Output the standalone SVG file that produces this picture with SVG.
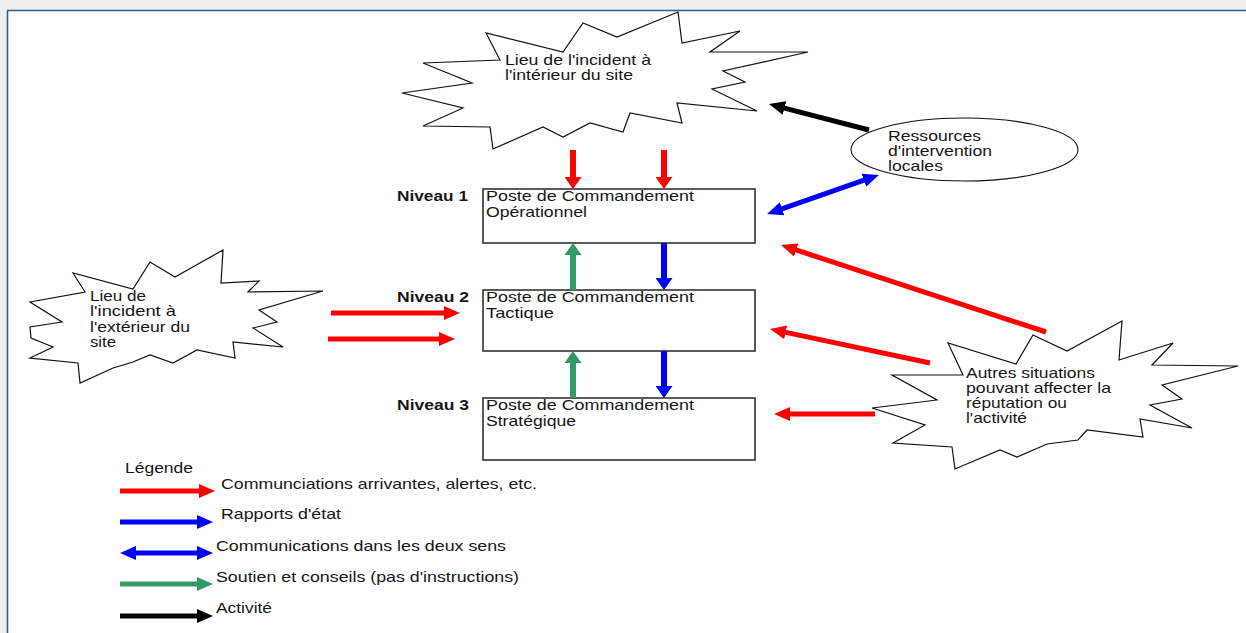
<svg xmlns="http://www.w3.org/2000/svg" width="1246" height="633" viewBox="0 0 1246 633">
<style>
text{font-family:"Liberation Sans",Arial,sans-serif;font-size:15px;fill:#161616}
.b{font-weight:bold}
.burst{fill:#fff;stroke:#111;stroke-width:1.2;stroke-linejoin:miter}
.box{fill:#fff;stroke:#333;stroke-width:1.6}
.r{stroke:#ff0000;fill:none}
.bl{stroke:#0000ff;fill:none}
.g{stroke:#339966;fill:none}
.k{stroke:#000;fill:none}
.v{stroke-width:6}
.d{stroke-width:5}
</style>
<defs>
<marker id="rh" markerUnits="userSpaceOnUse" markerWidth="17" markerHeight="14" refX="1" refY="7" orient="auto"><path d="M0,0 L16,7 L0,14 z" fill="#ff0000"/></marker>
<marker id="bh" markerUnits="userSpaceOnUse" markerWidth="17" markerHeight="14" refX="1" refY="7" orient="auto-start-reverse"><path d="M0,0 L16,7 L0,14 z" fill="#0000ff"/></marker>
<marker id="gh" markerUnits="userSpaceOnUse" markerWidth="17" markerHeight="14" refX="1" refY="7" orient="auto"><path d="M0,0 L16,7 L0,14 z" fill="#339966"/></marker>
<marker id="kh" markerUnits="userSpaceOnUse" markerWidth="17" markerHeight="14" refX="1" refY="7" orient="auto"><path d="M0,0 L16,7 L0,14 z" fill="#000"/></marker>
<marker id="rv" markerUnits="userSpaceOnUse" markerWidth="13" markerHeight="17" refX="1" refY="8.5" orient="auto"><path d="M0,0 L12,8.5 L0,17 z" fill="#ff0000"/></marker>
<marker id="bv" markerUnits="userSpaceOnUse" markerWidth="13" markerHeight="17" refX="1" refY="8.5" orient="auto"><path d="M0,0 L12,8.5 L0,17 z" fill="#0000ff"/></marker>
<marker id="gv" markerUnits="userSpaceOnUse" markerWidth="13" markerHeight="17" refX="1" refY="8.5" orient="auto"><path d="M0,0 L12,8.5 L0,17 z" fill="#339966"/></marker>
</defs>
<rect x="0" y="0" width="1246" height="633" fill="#efefef"/>
<rect x="8" y="11" width="1238" height="622" fill="#fff"/>
<line x1="7" y1="10.5" x2="1246" y2="10.5" stroke="#2c5d93" stroke-width="1.6"/>
<line x1="7.5" y1="10" x2="7.5" y2="633" stroke="#2c5d93" stroke-width="1.6"/>

<g id="lieu-interieur">
<polygon class="burst" points="500,60 486,33 563,52 583,23 617,37 678,12 682,43 740,31 710,52 808,52 723,71 745,82 712,89 757,111 677,103 682,123 630,113 623,132 590,123 563,137 543,127 493,149 490,127 423,126 463,108 402,93 472,83 423,63"/>
<text x="505" y="65" textLength="146" lengthAdjust="spacingAndGlyphs">Lieu de l'incident à</text>
<text x="505" y="80" textLength="128" lengthAdjust="spacingAndGlyphs">l'intérieur du site</text>
</g>

<g id="ressources">
<ellipse cx="964.5" cy="149.5" rx="113.5" ry="31.5" fill="#fff" stroke="#111" stroke-width="1.1"/>
<text x="888" y="141" textLength="93" lengthAdjust="spacingAndGlyphs">Ressources</text>
<text x="888" y="156" textLength="104" lengthAdjust="spacingAndGlyphs">d'intervention</text>
<text x="888" y="171" textLength="55" lengthAdjust="spacingAndGlyphs">locales</text>
</g>

<g id="lieu-exterieur">
<polygon class="burst" points="85,292 73,273 133,289 150,262 175,277 223,250 221,283 259,281 248,292 323,291 259,310 277,322 253,328 283,347 233,342 235,358 197,350 173,363 150,355 133,362 113,368 80,383 78,363 30,358 53,347 31,338 30,327 62,322 30,302"/>
<text x="90" y="301" textLength="56" lengthAdjust="spacingAndGlyphs">Lieu de</text>
<text x="90" y="316" textLength="86" lengthAdjust="spacingAndGlyphs">l'incident à</text>
<text x="90" y="332" textLength="100" lengthAdjust="spacingAndGlyphs">l'extérieur du</text>
<text x="90" y="347" textLength="26" lengthAdjust="spacingAndGlyphs">site</text>
</g>

<g id="autres-situations">
<polygon class="burst" points="963,375 948,343 1016,364 1033,335 1067,351 1122,321 1119,360 1173,343 1152,365 1238,366 1162,385 1182,399 1150,405 1192,428 1140,419 1143,437 1087,430 1078,440 1047,444 1017,457 1000,450 955,469 952,447 893,443 925,425 872,408 937,400 892,375"/>
<text x="966" y="378" textLength="129" lengthAdjust="spacingAndGlyphs">Autres situations</text>
<text x="966" y="393" textLength="145" lengthAdjust="spacingAndGlyphs">pouvant affecter la</text>
<text x="966" y="408" textLength="101" lengthAdjust="spacingAndGlyphs">réputation ou</text>
<text x="966" y="423" textLength="61" lengthAdjust="spacingAndGlyphs">l'activité</text>
</g>

<g id="niveau1">
<text class="b" x="397" y="201" textLength="71" lengthAdjust="spacingAndGlyphs">Niveau 1</text>
<rect class="box" x="483" y="189" width="272" height="54"/>
<text x="486" y="201" textLength="208" lengthAdjust="spacingAndGlyphs">Poste de Commandement</text>
<text x="486" y="217" textLength="101" lengthAdjust="spacingAndGlyphs">Opérationnel</text>
</g>
<g id="niveau2">
<text class="b" x="397" y="302" textLength="72" lengthAdjust="spacingAndGlyphs">Niveau 2</text>
<rect class="box" x="483" y="290" width="272" height="61"/>
<text x="486" y="302" textLength="208" lengthAdjust="spacingAndGlyphs">Poste de Commandement</text>
<text x="486" y="318" textLength="68" lengthAdjust="spacingAndGlyphs">Tactique</text>
</g>
<g id="niveau3">
<text class="b" x="397" y="410" textLength="72" lengthAdjust="spacingAndGlyphs">Niveau 3</text>
<rect class="box" x="483" y="398" width="272" height="62"/>
<text x="486" y="410" textLength="208" lengthAdjust="spacingAndGlyphs">Poste de Commandement</text>
<text x="486" y="426" textLength="90" lengthAdjust="spacingAndGlyphs">Stratégique</text>
</g>

<g id="connectors">
<line class="r v" x1="573" y1="150" x2="573" y2="178" marker-end="url(#rv)"/>
<line class="r v" x1="664" y1="150" x2="664" y2="178" marker-end="url(#rv)"/>
<line class="g v" x1="573" y1="290" x2="573" y2="254" marker-end="url(#gv)"/>
<line class="g v" x1="573" y1="398" x2="573" y2="362" marker-end="url(#gv)"/>
<line class="bl v" x1="664" y1="243" x2="664" y2="279" marker-end="url(#bv)"/>
<line class="bl v" x1="664" y1="351" x2="664" y2="387" marker-end="url(#bv)"/>
<line class="r d" x1="331" y1="313" x2="445" y2="313" marker-end="url(#rh)"/>
<line class="r d" x1="328" y1="339" x2="440" y2="339" marker-end="url(#rh)"/>
<line class="k d" x1="869" y1="130" x2="783.5" y2="107.8" marker-end="url(#kh)"/>
<line class="bl d" x1="781.2" y1="209.1" x2="864.8" y2="179.9" marker-start="url(#bh)" marker-end="url(#bh)"/>
<line class="r d" x1="1046" y1="332" x2="795.3" y2="249.7" marker-end="url(#rh)"/>
<line class="r d" x1="930" y1="363" x2="784.7" y2="332.1" marker-end="url(#rh)"/>
<line class="r d" x1="875" y1="414" x2="789" y2="414" marker-end="url(#rh)"/>
</g>

<g id="legende">
<text x="125" y="473" textLength="68" lengthAdjust="spacingAndGlyphs">Légende</text>
<line class="r d" x1="120" y1="491" x2="200" y2="491" marker-end="url(#rh)"/>
<text x="221" y="489" textLength="316" lengthAdjust="spacingAndGlyphs">Communciations arrivantes, alertes, etc.</text>
<line class="bl d" x1="120" y1="522" x2="198" y2="522" marker-end="url(#bh)"/>
<text x="221" y="519" textLength="120" lengthAdjust="spacingAndGlyphs">Rapports d'état</text>
<line class="bl d" x1="135" y1="553" x2="198" y2="553" marker-start="url(#bh)" marker-end="url(#bh)"/>
<text x="216" y="551" textLength="290" lengthAdjust="spacingAndGlyphs">Communications dans les deux sens</text>
<line class="g d" x1="120" y1="584" x2="198" y2="584" marker-end="url(#gh)"/>
<text x="216" y="582" textLength="303" lengthAdjust="spacingAndGlyphs">Soutien et conseils (pas d'instructions)</text>
<line class="k d" x1="120" y1="616" x2="198" y2="616" marker-end="url(#kh)"/>
<text x="216" y="613" textLength="56" lengthAdjust="spacingAndGlyphs">Activité</text>
</g>
</svg>
